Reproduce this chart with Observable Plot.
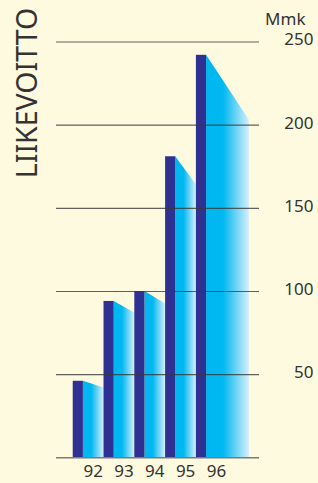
<!DOCTYPE html>
<html>
<head>
<meta charset="utf-8">
<script src="https://cdn.jsdelivr.net/npm/d3@7"></script>
<script src="https://cdn.jsdelivr.net/npm/@observablehq/plot@0.6"></script>
<style>
  html, body { margin: 0; padding: 0; background: #fefadf; }
  #chart svg { display: block; }
</style>
</head>
<body>
<div id="chart"></div>
<script>
const years = [92, 93, 94, 95, 96];
const yearLabels = ["92", "93", "94", "95", "96"];
const profit = [46, 94, 100, 181, 242];
const shadowEnd = [42, 87, 92.5, 164, 203];
const yTicks = [50, 100, 150, 200, 250];
const title = "LIIKEVOITTO";
const unit = "Mmk";

const barW = 0.33;      // dark bar width in year units
const lastReach = 1.72; // last shadow extends further

const bars = years.map((yr, i) => ({year: yr, value: profit[i], label: yearLabels[i]}));
const shadows = years.flatMap((yr, i) => {
  const reach = i === years.length - 1 ? lastReach : 1;
  return [
    {x: yr + barW, y: profit[i], z: yr},
    {x: yr + reach, y: shadowEnd[i], z: yr}
  ];
});

const W = 318, H = 483;
const plot = Plot.plot({
  width: W,
  height: H,
  marginLeft: 56,
  marginRight: 59,
  marginTop: 41.5,
  marginBottom: 25.7,
  style: {background: "#fefadf", fontFamily: "'Noto Sans', sans-serif", color: "#333"},
  x: {type: "linear", domain: [91.457, 98.049], axis: null},
  y: {domain: [0, 250], axis: null},
  marks: [
    Plot.areaY(shadows, {x: "x", y: "y", z: "z", fill: "url(#shade)", curve: "linear"}),
    Plot.rectY(bars, {x1: "year", x2: d => d.year + barW, y: "value", fill: "#2e3192", inset: 0}),
    Plot.ruleY(yTicks, {stroke: "#3a3a3a", strokeOpacity: 0.8, strokeWidth: 1.2}),
    Plot.ruleY([0], {stroke: "#7a7a7a", strokeWidth: 1.5}),
    Plot.axisY(yTicks, {anchor: "right", tickSize: 0, textAnchor: "end", dx: 45, dy: -2, fontSize: 17, fill: "#333", label: null}),
    Plot.text(bars, {x: "year", y: () => 0, text: "label", dx: 20, dy: 14, fontSize: 17, fill: "#333"}),
    Plot.text([unit], {frameAnchor: "top-right", dx: 46, dy: -22.5, textAnchor: "end", lineAnchor: "middle", fontSize: 17, fill: "#333"}),
    Plot.text([title], {frameAnchor: "top-left", dx: -29, dy: 51, rotate: -90, textAnchor: "middle", lineAnchor: "middle", fontSize: 28.5, fill: "#333"})
  ]
});

const svgNS = "http://www.w3.org/2000/svg";
const defs = document.createElementNS(svgNS, "defs");
defs.innerHTML = `
  <linearGradient id="shade" x1="0" y1="0" x2="1" y2="0">
    <stop offset="0" stop-color="#00b8f1"/>
    <stop offset="0.4" stop-color="#00b8f1"/>
    <stop offset="1" stop-color="#d6effb"/>
  </linearGradient>`;
plot.insertBefore(defs, plot.firstChild);
document.getElementById("chart").appendChild(plot);
</script>
</body>
</html>
